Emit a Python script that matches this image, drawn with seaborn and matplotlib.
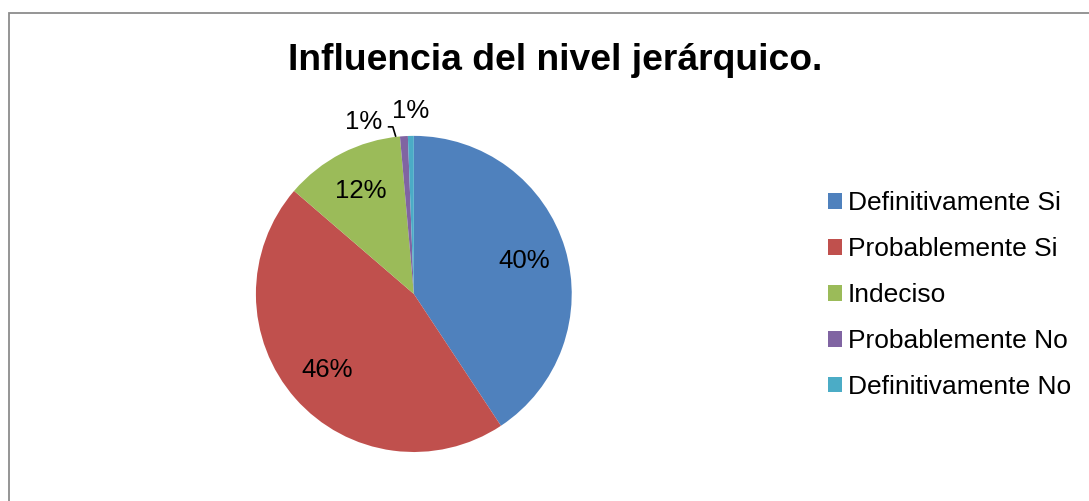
import numpy as np
import seaborn as sns
import matplotlib.pyplot as plt
from matplotlib.patches import Rectangle

# Datos
categorias = ['Definitivamente Si', 'Probablemente Si', 'Indeciso',
              'Probablemente No', 'Definitivamente No']
porcentajes = [40.7, 45.6, 12.3, 0.8, 0.6]
etiquetas = ['40%', '46%', '12%', '1%', '1%']
colores = ['#4F81BD', '#C0504D', '#9BBB59', '#8064A2', '#4BACC6']
titulo = 'Influencia del nivel jerárquico.'

sns.set_style('white')
plt.rcParams['font.family'] = ['Liberation Sans', 'DejaVu Sans']
plt.rcParams['text.color'] = 'black'

fig = plt.figure(figsize=(10.89, 5.01), dpi=100)

# borde del area del grafico
fig.patches.append(Rectangle((9 / 1089, -0.1), 1.2, 1 - 13 / 501 + 0.1,
                             transform=fig.transFigure, fill=False,
                             edgecolor='#8c8c8c', linewidth=1.3))

ax = fig.add_axes([0.235, 0.0978, 0.290, 0.631])
wedges, _ = ax.pie(porcentajes, colors=colores, startangle=90, counterclock=False,
                   wedgeprops=dict(linewidth=0))
ax.set_xlim(-1, 1)
ax.set_ylim(-1, 1)
ax.set_aspect('auto')
ax.axis('off')

# etiquetas dentro de las porciones grandes
for w, lab, val in zip(wedges, etiquetas, porcentajes):
    ang = np.deg2rad((w.theta1 + w.theta2) / 2)
    if val > 5:
        r = 0.73
        ax.text(r * np.cos(ang), r * np.sin(ang), lab, ha='center', va='center',
                fontsize=18.5, color='black')

# etiquetas de las porciones pequeñas (con linea guia para la morada)
ax.text(-0.32, 1.085, etiquetas[3], ha='center', va='center', fontsize=18.5,
        color='black')
ax.plot([-0.165, -0.133, -0.114], [1.057, 1.057, 0.994], color='black',
        lw=1.2, clip_on=False, solid_capstyle='butt')
ax.text(-0.02, 1.16, etiquetas[4], ha='center', va='center', fontsize=18.5,
        color='black')

fig.text(555 / 1089, 1 - 60 / 501, titulo, ha='center', va='center',
         fontsize=26.8, fontweight='bold', color='black')

fig.legend(wedges, categorias, loc='center left',
           bbox_to_anchor=(817 / 1089, 1 - 295 / 501), frameon=False,
           fontsize=19, handlelength=0.55, handleheight=0.55,
           handletextpad=0.22, labelspacing=0.83, borderaxespad=0,
           labelcolor='black')

fig.savefig('out.png', dpi=100)
